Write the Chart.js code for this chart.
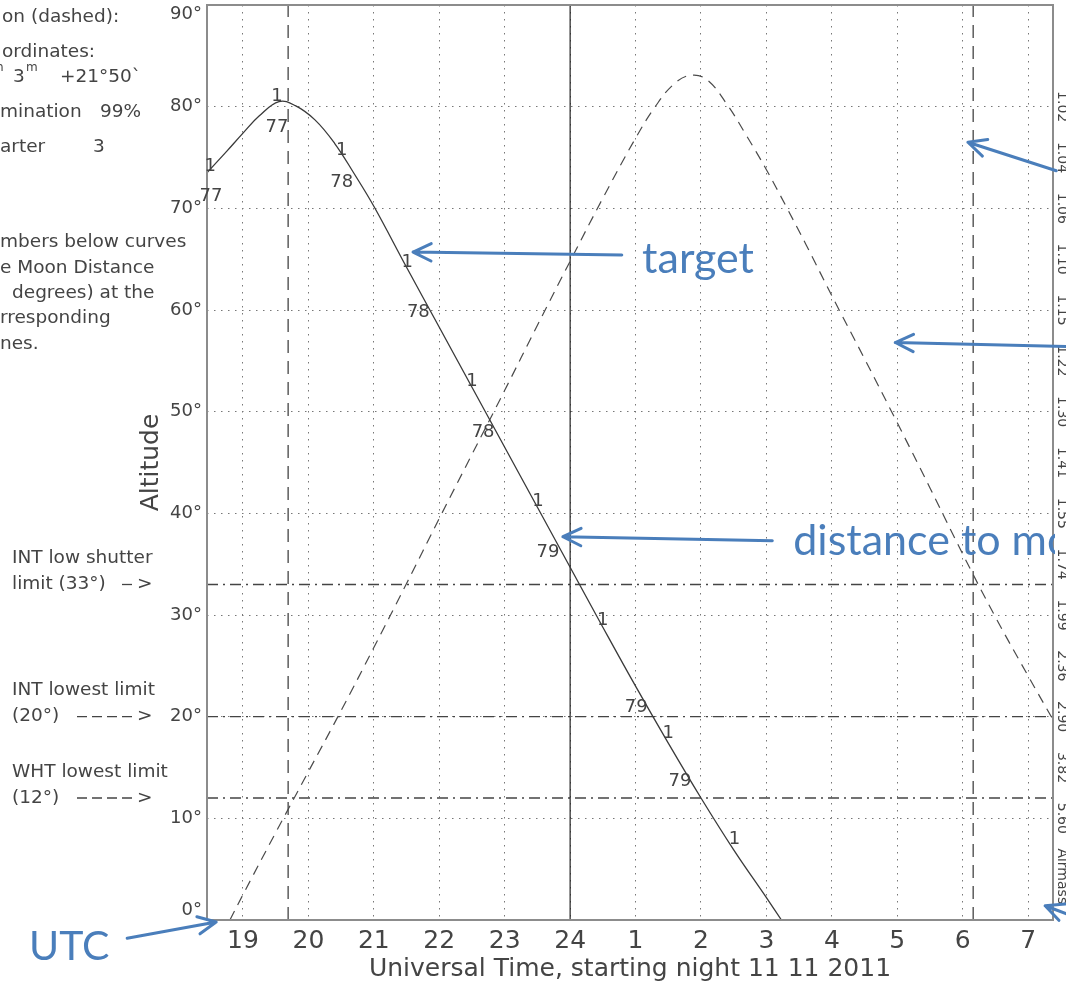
<!DOCTYPE html>
<html>
<head>
<meta charset="utf-8">
<script src="https://cdn.jsdelivr.net/npm/chart.js@4.4.1/dist/chart.umd.min.js"></script>
<style>
  html, body { margin: 0; padding: 0; background: #fff; overflow: hidden; }
  #wrap { position: relative; width: 1066px; height: 994px; }
</style>
</head>
<body>
<div id="wrap"><canvas id="altChart"></canvas></div>
<script>
// Time axis in hours since start of night (24 = midnight, 25 = 1h UT next day)
const hourTicks = [19, 20, 21, 22, 23, 24, 25, 26, 27, 28, 29, 30, 31];
const timeMin = 18.45;
const timeMax = 31.38;
const altMin = 0;
const altMax = 90;

// Target altitude (solid curve)
const targetTimes = [18.45, 18.75, 19.0, 19.25, 19.55, 19.8, 20.1, 20.4, 20.7, 21.0, 21.5, 22.0, 22.5, 23.0, 23.5, 24.0, 24.5, 25.0, 25.5, 26.0, 26.5, 27.0, 27.23];
const targetAlts  = [73.5, 75.6, 77.4, 79.1, 80.5, 80.1, 78.7, 76.4, 73.4, 70.2, 64.2, 58.3, 52.4, 46.5, 40.6, 34.7, 28.8, 23.0, 17.4, 12.0, 6.9, 2.2, 0];

// Moon altitude (dashed curve)
const moonTimes = [18.8, 19.0, 19.5, 20.0, 20.5, 21.0, 21.5, 22.0, 22.5, 23.0, 23.5, 24.0, 24.5, 25.0, 25.3, 25.6, 25.86, 26.1, 26.4, 26.7, 27.0, 27.3, 27.6, 28.0, 28.5, 29.0, 29.5, 30.0, 30.5, 31.0, 31.38];
const moonAlts  = [0, 2.5, 8.6, 14.6, 20.6, 26.8, 33.1, 39.5, 45.8, 52.1, 58.5, 64.8, 71.0, 76.9, 80.0, 82.3, 83.1, 82.6, 80.2, 77.1, 73.8, 70.2, 66.5, 61.4, 55.2, 48.9, 42.5, 36.0, 29.8, 24.0, 19.7];

// Vertical markers: twilight (dashed) and midnight (solid)
const twilightTimes = [19.69, 30.16];
const midnightTime = 24;

// Horizontal telescope limits (dash-dot)
const limitAlts = [33, 20, 12];
const limitText = [['INT low shutter', 'limit (33°)', 1], ['INT lowest limit', '(20°)', 4], ['WHT lowest limit', '(12°)', 4]];

// "1" marks and moon distance numbers along the target curve
const markTimes = [18.50, 19.52, 20.51, 21.51, 22.50, 23.51, 24.50, 25.50, 26.51];
const markAlts  = [74.1, 81.0, 75.7, 64.7, 53.0, 41.2, 29.5, 18.4, 7.9];
const distTimes  = [18.51, 19.52, 20.51, 21.68, 22.67, 23.66, 25.01, 25.68];
const distAlts   = [71.2, 78.0, 72.6, 59.8, 48.0, 36.2, 20.9, 13.6];
const distLabels = ['77', '77', '78', '78', '78', '79', '79', '79'];

// Airmass scale on the right edge
const airmassAlts   = [80, 75, 70, 65, 60, 55, 50, 45, 40, 35, 30, 25, 20, 15, 10];
const airmassLabels = ['1.02', '1.04', '1.06', '1.10', '1.15', '1.22', '1.30', '1.41', '1.55', '1.74', '1.99', '2.36', '2.90', '3.82', '5.60'];

// Blue slide annotations (time, altitude)
const arrowTails = [[24.79, 65.4], [27.09, 37.3], [31.43, 73.7], [31.60, 56.4], [17.23, -1.8], [31.75, 0.2]];
const arrowTips  = [[21.60, 65.7], [23.89, 37.7], [30.08, 76.5], [28.97, 56.8], [18.59, -0.2], [31.26, 1.4]];
const calloutText  = ['target', 'distance to moon', 'UTC'];
const calloutSpots = [[25.10, 63.6], [27.41, 35.9], [15.73, -3.9]];

const family = "'DejaVu Sans', sans-serif";
const ink = '#444';
const blue = 'rgb(74,126,187)';

function toPoints(times, alts) {
    return times.map((t, i) => ({ x: t, y: alts[i] }));
}

const datasets = [
    {
        data: toPoints(targetTimes, targetAlts),
        borderColor: '#3a3a3a', borderWidth: 1.3, tension: 0.4
    },
    {
        data: toPoints(moonTimes, moonAlts),
        borderColor: '#4a4a4a', borderWidth: 1.2, borderDash: [10, 7], tension: 0.4
    },
    {
        data: toPoints([midnightTime, midnightTime], [altMin, altMax]),
        borderColor: '#222', borderWidth: 1.2
    }
];

twilightTimes.forEach(t => {
    datasets.push({
        data: toPoints([t, t], [altMin, altMax]),
        borderColor: '#444', borderWidth: 1.3, borderDash: [13, 8]
    });
});

limitAlts.forEach(a => {
    datasets.push({
        data: toPoints([timeMin, timeMax], [a, a]),
        borderColor: '#444', borderWidth: 1.3, borderDash: [11, 5, 2, 5]
    });
});

const overlayPlugin = {
    id: 'overlay',
    afterDatasetsDraw(chart) {
        const { ctx, chartArea: area, scales } = chart;
        const X = t => scales.x.getPixelForValue(t);
        const Y = a => scales.y.getPixelForValue(a);
        ctx.save();

        // plot frame
        ctx.strokeStyle = '#8c8c8c';
        ctx.lineWidth = 2;
        ctx.strokeRect(area.left, area.top, area.right - area.left, area.bottom - area.top);

        // numbers along the target curve
        ctx.fillStyle = ink;
        ctx.font = `18px ${family}`;
        ctx.textAlign = 'center';
        ctx.textBaseline = 'middle';
        markTimes.forEach((t, i) => ctx.fillText('1', X(t), Y(markAlts[i])));
        distTimes.forEach((t, i) => ctx.fillText(distLabels[i], X(t), Y(distAlts[i])));

        // airmass labels, rotated, partly cut by the page edge
        ctx.font = `14px ${family}`;
        ctx.textBaseline = 'alphabetic';
        const rotated = (text, alt) => {
            ctx.save();
            ctx.translate(area.right + 5, Y(alt));
            ctx.rotate(Math.PI / 2);
            ctx.fillText(text, 0, 0);
            ctx.restore();
        };
        airmassAlts.forEach((a, i) => rotated(airmassLabels[i], a));
        rotated('Airmass', 4.3);

        // legend notes on the left (cut by the page edge)
        ctx.textAlign = 'left';
        ctx.textBaseline = 'middle';
        ctx.font = `18.5px ${family}`;
        const notes = [
            [2, 17, 'on (dashed):'], [2, 52, 'ordinates:'],
            [13, 77, '3'], [60, 77, '+21°50`'],
            [0, 112, 'mination'], [100, 112, '99%'],
            [0, 147, 'arter'], [93, 147, '3'],
            [0, 242, 'mbers below curves'], [0, 268, 'e Moon Distance'],
            [12, 293, 'degrees) at the'], [0, 318, 'rresponding'], [0, 344, 'nes.']
        ];
        notes.forEach(n => ctx.fillText(n[2], n[0], n[1]));
        ctx.font = `12px ${family}`;
        ctx.fillText('h', -4, 68);
        ctx.fillText('m', 26, 68);

        ctx.font = `18.5px ${family}`;
        ctx.strokeStyle = ink;
        ctx.lineWidth = 1.3;
        limitAlts.forEach((a, i) => {
            const [top, bottom, dashes] = limitText[i];
            const y = Y(a);
            ctx.fillText(top, 12, y - 26);
            ctx.fillText(bottom, 12, y);
            const start = 137 - dashes * 15;
            ctx.beginPath();
            for (let d = 0; d < dashes; d++) {
                ctx.moveTo(start + d * 15, y);
                ctx.lineTo(start + d * 15 + 10, y);
            }
            ctx.stroke();
            ctx.fillText('>', 137, y);
        });

        // blue arrows and callouts
        ctx.strokeStyle = blue;
        ctx.fillStyle = blue;
        ctx.lineWidth = 3;
        ctx.lineCap = 'round';
        arrowTails.forEach((tail, i) => {
            const x0 = X(tail[0]), y0 = Y(tail[1]);
            const x1 = X(arrowTips[i][0]), y1 = Y(arrowTips[i][1]);
            const ang = Math.atan2(y1 - y0, x1 - x0);
            ctx.beginPath();
            ctx.moveTo(x0, y0);
            ctx.lineTo(x1, y1);
            [-1, 1].forEach(s => {
                ctx.moveTo(x1, y1);
                ctx.lineTo(x1 - 20 * Math.cos(ang + s * 0.45), y1 - 20 * Math.sin(ang + s * 0.45));
            });
            ctx.stroke();
        });

        ctx.textBaseline = 'alphabetic';
        calloutText.forEach((text, i) => {
            ctx.save();
            ctx.beginPath();
            ctx.rect(0, 0, area.right + 2, chart.height);
            ctx.clip();
            ctx.font = text === 'UTC' ? '41px Lato' : '43px Lato';
            ctx.fillText(text, X(calloutSpots[i][0]), Y(calloutSpots[i][1]));
            ctx.restore();
        });

        ctx.restore();
    }
};

new Chart(document.getElementById('altChart'), {
    type: 'line',
    data: { datasets: datasets },
    options: {
        responsive: true,
        maintainAspectRatio: false,
        animation: false,
        layout: { padding: { left: 130, top: 5, right: 13, bottom: 0 } },
        elements: { point: { radius: 0 } },
        plugins: {
            legend: { display: false },
            tooltip: { enabled: false }
        },
        scales: {
            x: {
                type: 'linear',
                min: timeMin,
                max: timeMax,
                afterBuildTicks: s => { s.ticks = hourTicks.map(v => ({ value: v })); },
                afterFit: s => { s.height = 74; s.paddingLeft = 0; s.paddingRight = 0; },
                grid: { color: '#777', lineWidth: 1, drawTicks: false },
                border: { display: false, dash: [1.5, 5.5] },
                ticks: {
                    autoSkip: false, maxRotation: 0, padding: 6, color: ink,
                    font: { family: family, size: 25 },
                    callback: v => (v > 24 ? v - 24 : v)
                },
                title: {
                    display: true, text: 'Universal Time, starting night 11 11 2011', color: ink,
                    font: { family: family, size: 25 }, padding: { top: 0, bottom: 10 }
                }
            },
            y: {
                min: altMin,
                max: altMax,
                afterFit: s => { s.width = 77; s.paddingTop = 0; s.paddingBottom = 0; },
                grid: { color: '#777', lineWidth: 1, drawTicks: false },
                border: { display: false, dash: [1.5, 5.5] },
                ticks: {
                    stepSize: 10, padding: 5, color: ink,
                    font: { family: family, size: 18, lineHeight: 1.05 },
                    // end labels are nudged inside the frame, as in the original plot
                    callback: v => (v === altMax ? ['', v + '°'] : v === altMin ? [v + '°', ''] : v + '°')
                },
                title: {
                    display: true, text: 'Altitude', color: ink,
                    font: { family: family, size: 25 }, padding: { top: 6, bottom: 0 }
                }
            }
        }
    },
    plugins: [overlayPlugin]
});
</script>
</body>
</html>
